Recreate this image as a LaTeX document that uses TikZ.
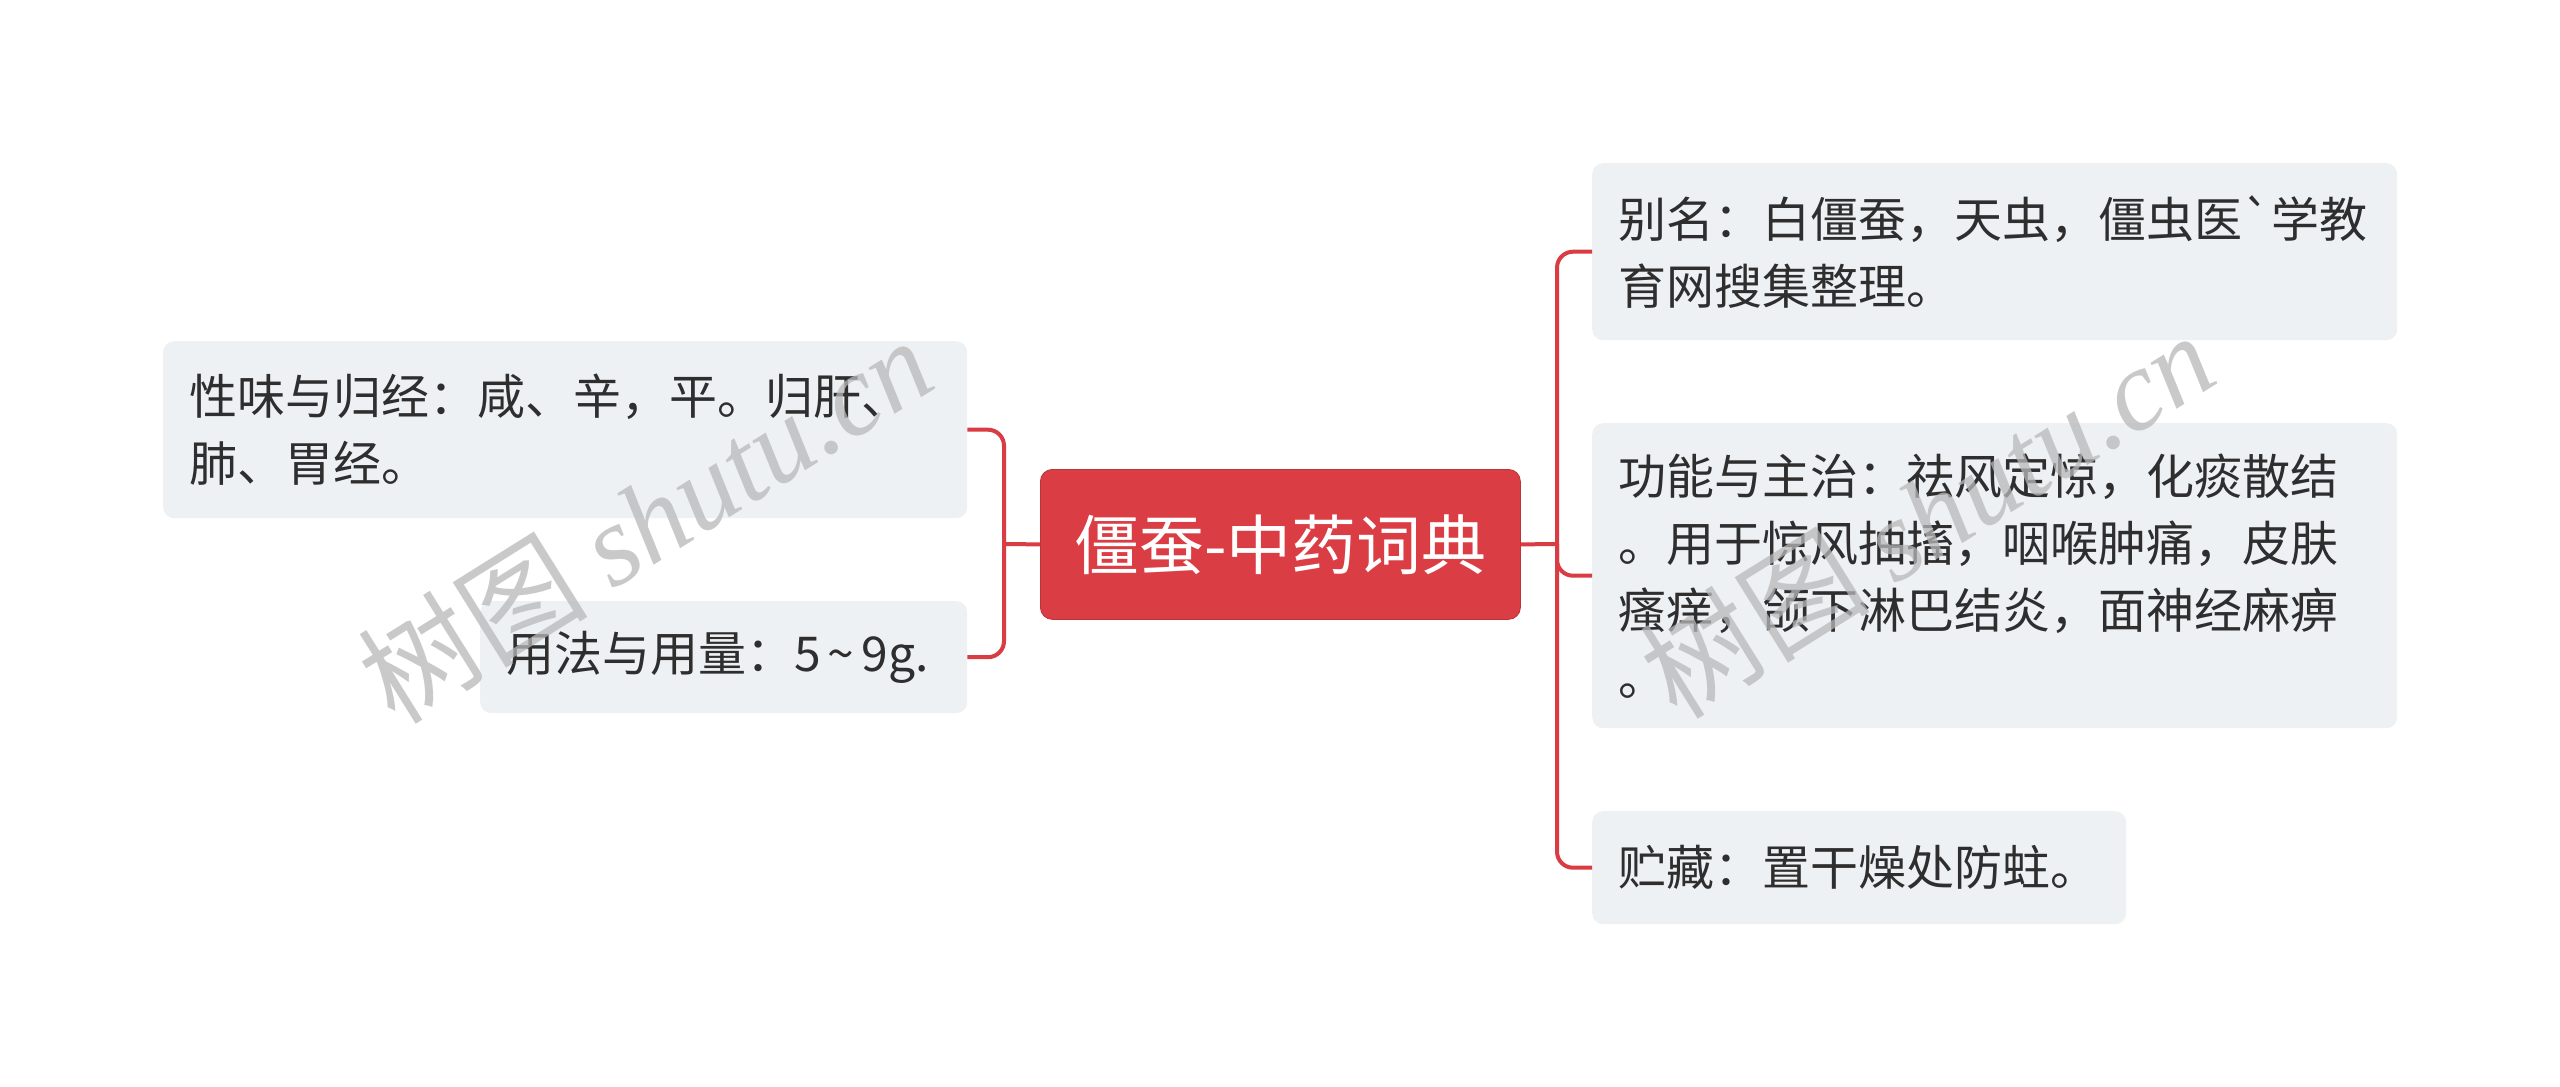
\documentclass[tikz,border=0pt]{standalone}
\usepackage{fontspec}
\setmainfont{Noto Sans CJK SC}
\setmonofont{Noto Sans CJK SC}
\newfontfamily\wmlatin{Liberation Serif}
\definecolor{linered}{HTML}{DA3C44}
\definecolor{centerred}{HTML}{DB3D44}
\definecolor{boxgray}{HTML}{EEF1F4}
\definecolor{txt}{HTML}{2E2E2E}
\definecolor{wmgray}{HTML}{B8B8B8}
\begin{document}
\begin{tikzpicture}[x=1pt,y=-1pt,
  box/.style={rectangle, rounded corners=11pt, fill=boxgray, text=txt, align=left,
    inner xsep=26pt, inner ysep=0pt, anchor=north west,
    font=\fontsize{48}{67}\selectfont},
  centerbox/.style={rectangle, rounded corners=12pt, fill=centerred, draw=centerred!85!black, line width=0.8pt,
    text=white, anchor=north west, minimum width=480pt, minimum height=150pt, inner sep=0pt,
    font=\fontsize{65}{70}\selectfont},
  conn/.style={draw=linered, line width=4pt, rounded corners=16pt},
  wm/.style={text=wmgray, opacity=0.75, rotate=32, inner sep=0pt}
]
\useasboundingbox (0,0) rectangle (2560,1087);
\fill[white] (0,0) rectangle (2560,1087);

\coordinate (lj) at (1004,544);
\coordinate (rj) at (1557,544);

\node[centerbox] (C) at (1040,469) {僵蚕-中药词典};

\node[box, text width=752pt, minimum height=177pt] (L1) at (163,341)
  {性味与归经：咸、辛，平。归肝、\\肺、胃经。};
\node[box, text width=435pt, minimum height=112pt] (L2) at (480,601)
  {用法与用量：5\hspace{7pt}{\ttfamily\char"7E}\hspace{7pt}9g.};

\node[box, text width=753pt, minimum height=177pt] (R1) at (1592,163)
  {别名：白僵蚕，天虫，僵虫医{\ttfamily\char"60}学教\\育网搜集整理。};
\node[box, text width=753pt, minimum height=305pt] (R2) at (1592,423)
  {功能与主治：祛风定惊，化痰散结\\。用于惊风抽搐，咽喉肿痛，皮肤\\瘙痒，颌下淋巴结炎，面神经麻痹\\。};
\node[box, text width=482pt, minimum height=113pt] (R3) at (1592,811)
  {贮藏：置干燥处防蛀。};

\draw[conn] (C.west) -- (lj);
\draw[conn] (L1.east) -| (lj) |- (L2.east);
\draw[conn] (C.east) -- (rj);
\draw[conn] (R1.west) -| (rj) |- (R3.west);
\draw[conn] (rj) |- (R2.west);

\node[wm] (wm1) at (645,519) {\fontsize{115}{115}\selectfont 树图 {\wmlatin\itshape shutu.cn}};
\node[wm] (wm2) at (1927,514) {\fontsize{115}{115}\selectfont 树图 {\wmlatin\itshape shutu.cn}};
\end{tikzpicture}
\end{document}
